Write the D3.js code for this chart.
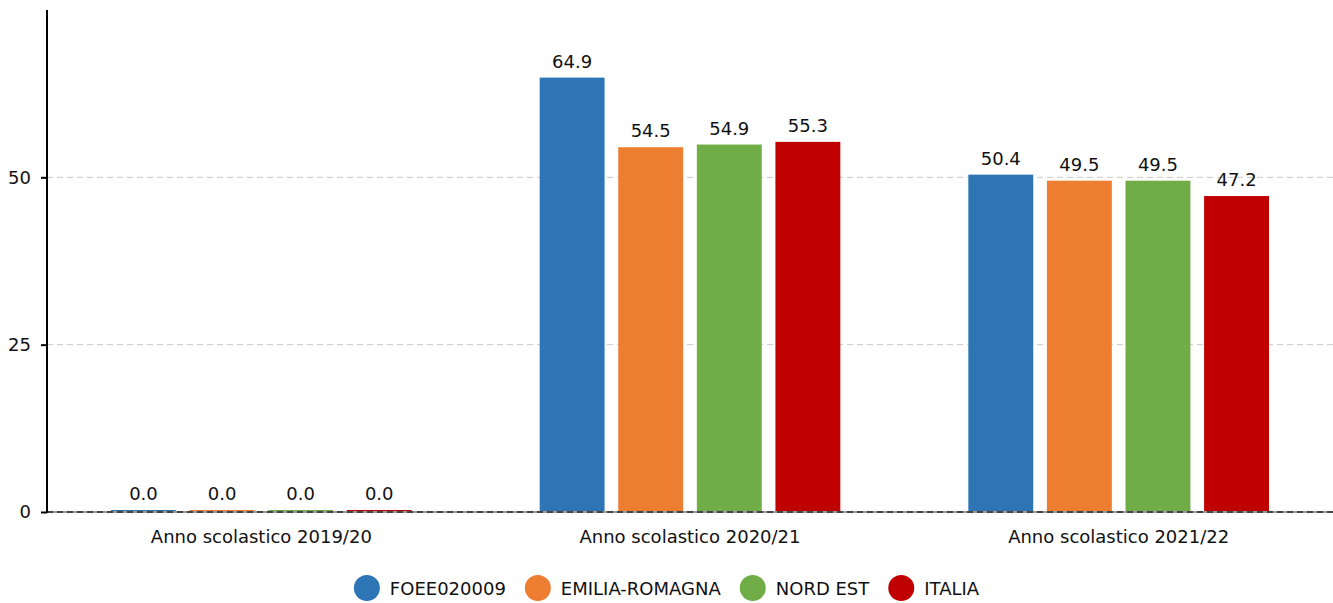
<!DOCTYPE html>
<meta charset="utf-8">
<style>
  body { margin: 0; background: #fff; }
  text { font-family: "DejaVu Sans", sans-serif; font-size: 18px; fill: #111; }
  .grid line { stroke: #c8c8c8; stroke-dasharray: 6,4; }
</style>
<svg width="1333" height="603"></svg>
<script src="https://cdnjs.cloudflare.com/ajax/libs/d3/7.8.5/d3.min.js"></script>
<script>

var categories = ["Anno scolastico 2019/20", "Anno scolastico 2020/21", "Anno scolastico 2021/22"];
var seriesNames = ["FOEE020009", "EMILIA-ROMAGNA", "NORD EST", "ITALIA"];
var seriesColors = ["#2e75b6", "#ed7d31", "#70ad47", "#c00000"];
var foee = [0.0, 64.9, 50.4];
var emilia = [0.0, 54.5, 49.5];
var nordEst = [0.0, 54.9, 49.5];
var italia = [0.0, 55.3, 47.2];
var yTicks = [0, 25, 50];

var values = [foee, emilia, nordEst, italia];

var svg = d3.select("svg"),
    margin = {top: 10, right: 0, bottom: 91, left: 47},
    width = +svg.attr("width") - margin.left - margin.right,
    height = +svg.attr("height") - margin.top - margin.bottom;

var g = svg.append("g").attr("transform", "translate(" + margin.left + "," + margin.top + ")");

var x0 = d3.scaleBand().domain(categories).range([0, width]);
var groupPad = 64;
var x1 = d3.scaleBand().domain(seriesNames)
    .range([groupPad, x0.bandwidth() - groupPad])
    .paddingInner(0.174).paddingOuter(0);
var y = d3.scaleLinear().domain([0, 75]).range([height, 0]);

// gridlines
g.append("g").attr("class", "grid")
  .selectAll("line").data(yTicks.filter(function(d) { return d > 0; }))
  .enter().append("line")
    .attr("x1", 0).attr("x2", width)
    .attr("y1", function(d) { return y(d); })
    .attr("y2", function(d) { return y(d); });

// bars
var rows = [];
categories.forEach(function(c, i) {
  seriesNames.forEach(function(s, j) {
    rows.push({cat: c, series: s, color: seriesColors[j], value: values[j][i]});
  });
});

var bars = g.selectAll(".bar").data(rows).enter().append("g")
    .attr("transform", function(d) { return "translate(" + x0(d.cat) + ",0)"; });

bars.append("rect")
    .attr("x", function(d) { return x1(d.series); })
    .attr("width", x1.bandwidth())
    .attr("y", function(d) { return Math.min(y(d.value), y(0) - 2); })
    .attr("height", function(d) { return Math.max(y(0) - y(d.value), 2); })
    .attr("fill", function(d) { return d.color; });

bars.append("text")
    .attr("x", function(d) { return x1(d.series) + x1.bandwidth() / 2; })
    .attr("y", function(d) { return Math.min(y(d.value), y(0) - 2) - 10; })
    .attr("text-anchor", "middle")
    .text(function(d) { return d.value.toFixed(1); });

// zero line
g.append("line").attr("x1", 0).attr("x2", width).attr("y1", y(0)).attr("y2", y(0))
    .attr("stroke", "#999").attr("stroke-width", 2);
g.append("line").attr("x1", 0).attr("x2", width).attr("y1", y(0)).attr("y2", y(0))
    .attr("stroke", "#444").attr("stroke-width", 2).attr("stroke-dasharray", "6,4");

// y axis
var yAxis = g.append("g").call(d3.axisLeft(y).tickValues(yTicks).tickSize(6).tickPadding(10));
yAxis.select(".domain").remove();
yAxis.selectAll(".tick line").attr("stroke", "#000").attr("stroke-width", 2);
yAxis.selectAll("text").style("font-size", "18px").style("font-family", "DejaVu Sans").attr("fill", "#111");
g.append("line").attr("x1", 0).attr("x2", 0).attr("y1", 0).attr("y2", height + 1)
    .attr("stroke", "#000").attr("stroke-width", 2);

// category labels
g.selectAll(".cat").data(categories).enter().append("text")
    .attr("x", function(d) { return x0(d) + x0.bandwidth() / 2; })
    .attr("y", height + 31)
    .attr("text-anchor", "middle")
    .text(function(d) { return d; });

// legend
var legend = svg.append("g").attr("transform", "translate(0,588)");
var pos = 0;
var items = legend.selectAll(".item").data(seriesNames).enter().append("g");
items.each(function(d, i) {
  var it = d3.select(this);
  it.append("circle").attr("cx", 13).attr("cy", 0).attr("r", 13).attr("fill", seriesColors[i]);
  var t = it.append("text").attr("x", 36).attr("y", 7).text(d);
  var w = 36 + t.node().getComputedTextLength();
  it.attr("transform", "translate(" + pos + ",0)");
  pos += w + 19;
});
pos -= 19;
legend.attr("transform", "translate(" + ((1333 - pos) / 2) + ",588)");

</script>
